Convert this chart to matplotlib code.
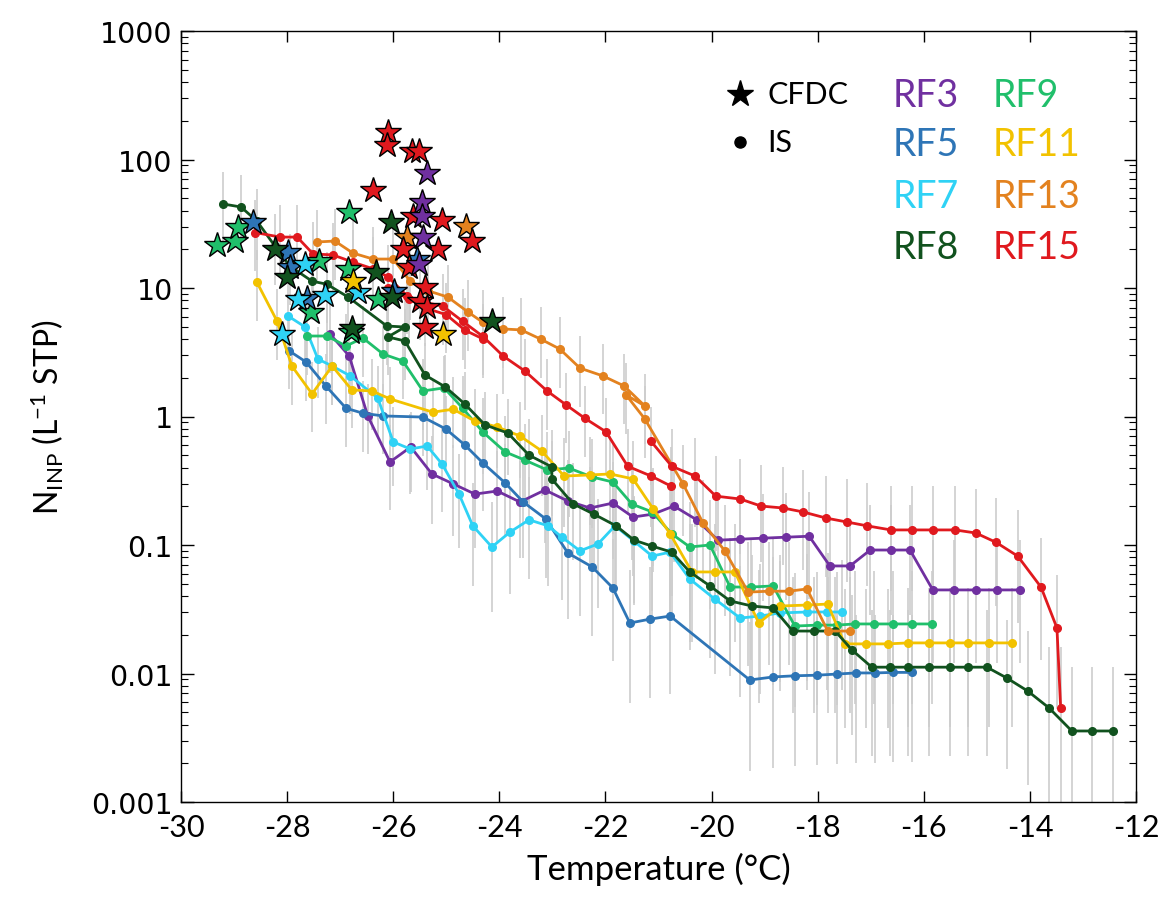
import numpy as np
import matplotlib
matplotlib.use('Agg')
import matplotlib.pyplot as plt
from matplotlib.ticker import FixedLocator, FixedFormatter, LogLocator, NullFormatter

plt.rcParams['font.family'] = ['Lato', 'DejaVu Sans']
plt.rcParams['mathtext.default'] = 'regular'

# ---- IS data: temperature (C) and N_INP (L-1 STP) ----
rf3_T = [-27.19, -26.83, -26.48, -26.06, -25.67, -25.27, -24.87, -24.46, -24.04, -23.61, -23.14,
         -22.71, -22.29, -21.86, -21.48, -21.10, -20.71, -20.28, -19.88, -19.46, -19.03, -18.60,
         -18.16, -17.77, -17.39, -17.01, -16.62, -16.26, -15.83, -15.43, -15.02, -14.62, -14.19]
rf3_N = [4.38, 2.96, 1.01, 0.443, 0.579, 0.357, 0.299, 0.249, 0.263, 0.216, 0.268,
         0.220, 0.194, 0.212, 0.165, 0.174, 0.201, 0.157, 0.109, 0.111, 0.113, 0.115,
         0.117, 0.0687, 0.0687, 0.0914, 0.0914, 0.0914, 0.0447, 0.0447, 0.0447, 0.0447, 0.0447]

rf5_T = [-27.96, -27.64, -27.27, -26.89, -26.57, -26.19, -25.44, -25.01, -24.65, -24.31, -23.89,
         -23.55, -23.12, -22.71, -22.25, -21.86, -21.54, -21.16, -20.78, -19.28, -18.84, -18.43,
         -18.01, -17.64, -17.28, -16.92, -16.58, -16.22]
rf5_N = [3.24, 2.65, 1.73, 1.16, 1.06, 1.01, 0.99, 0.80, 0.60, 0.435, 0.304,
         0.216, 0.159, 0.0867, 0.0675, 0.0463, 0.0247, 0.0265, 0.028, 0.0089, 0.0094, 0.0096,
         0.0097, 0.0099, 0.0101, 0.0101, 0.0102, 0.0102]

rf7_T = [-27.98, -27.66, -27.42, -27.15, -26.81, -26.29, -26.00, -25.68, -25.36, -25.08, -24.76,
         -24.50, -24.14, -23.80, -23.44, -23.08, -22.82, -22.48, -22.14, -21.82, -21.46, -21.12,
         -20.78, -20.41, -19.94, -19.46, -19.09, -18.71, -18.20, -17.83, -17.54]
rf7_N = [6.05, 4.97, 2.80, 2.47, 2.07, 1.39, 0.634, 0.559, 0.589, 0.427, 0.249,
         0.141, 0.0965, 0.126, 0.157, 0.141, 0.115, 0.090, 0.102, 0.141, 0.107, 0.082,
         0.088, 0.0543, 0.038, 0.027, 0.028, 0.0296, 0.0301, 0.0301, 0.0301]

rf8_T = [-29.21, -28.87, -28.57, -28.23, -27.95, -27.53, -27.25, -26.85, -26.12, -25.78, -26.10,
         -25.78, -25.40, -25.02, -24.65, -24.27, -23.84, -23.44, -23.01, -23.01, -22.61, -22.22,
         -21.80, -21.46, -21.12, -20.75, -20.41, -20.03, -19.65, -19.24, -18.84, -18.47, -18.07,
         -17.67, -17.35, -16.98, -16.64, -16.30, -15.90, -15.51, -15.17, -14.81, -14.43, -14.04,
         -13.64, -13.21, -12.83, -12.44]
rf8_N = [45.1, 42.7, 33.2, 21.2, 14.8, 11.3, 10.7, 8.5, 5.06, 4.97, 4.16,
         3.87, 2.10, 1.70, 1.25, 0.86, 0.744, 0.50, 0.405, 0.326, 0.209, 0.174,
         0.141, 0.109, 0.098, 0.088, 0.0617, 0.048, 0.0367, 0.0335, 0.0324, 0.0214, 0.0214,
         0.0214, 0.0152, 0.0112, 0.0112, 0.0112, 0.0112, 0.0112, 0.0112, 0.0112, 0.0092, 0.0073,
         0.0054, 0.00357, 0.00357, 0.00357]

rf9_T = [-27.63, -27.25, -26.89, -26.57, -26.19, -25.82, -25.44, -25.04, -24.69, -24.31, -23.89,
         -23.52, -23.10, -22.69, -22.25, -21.86, -21.50, -21.12, -20.75, -20.41, -20.03, -19.65,
         -19.26, -18.84, -18.43, -18.01, -17.64, -17.30, -16.94, -16.58, -16.22, -15.85]
rf9_N = [4.23, 4.23, 3.54, 4.08, 3.06, 2.71, 1.58, 1.67, 1.16, 0.757, 0.53,
         0.458, 0.384, 0.397, 0.338, 0.309, 0.208, 0.181, 0.122, 0.0965, 0.100, 0.0471,
         0.0471, 0.048, 0.0234, 0.0238, 0.0238, 0.0243, 0.0243, 0.0243, 0.0243, 0.0243]

rf11_T = [-28.57, -28.19, -27.91, -27.53, -27.15, -26.78, -26.40, -26.06, -25.25, -24.87, -24.46,
          -24.04, -23.61, -23.20, -22.78, -22.29, -21.91, -21.48, -21.10, -20.78, -20.37, -19.94,
          -19.56, -19.11, -18.71, -18.20, -17.81, -17.49, -17.09, -16.68, -16.30, -15.90, -15.51,
          -15.17, -14.77, -14.34]
rf11_N = [11.1, 5.53, 2.47, 1.50, 2.47, 1.61, 1.58, 1.37, 1.08, 1.14, 0.92,
          0.83, 0.705, 0.539, 0.344, 0.351, 0.357, 0.327, 0.191, 0.122, 0.0617, 0.0617,
          0.0617, 0.0247, 0.0335, 0.0341, 0.0347, 0.0170, 0.0170, 0.0170, 0.0173, 0.0173, 0.0173,
          0.0173, 0.0173, 0.0173]

rf13_T = [-27.44, -27.10, -26.76, -26.38, -26.00, -25.68, -25.34, -24.97, -24.59, -24.31, -23.93,
          -23.59, -23.22, -22.86, -22.48, -22.05, -21.65, -21.26, -21.61, -21.26, -20.54, -20.16,
          -19.75, -19.31, -18.92, -18.54, -18.20, -17.81, -17.39]
rf13_N = [22.8, 23.2, 18.7, 16.8, 16.8, 11.3, 9.5, 8.5, 6.5, 5.4, 4.80,
          4.72, 4.0, 3.35, 2.38, 2.07, 1.73, 1.21, 1.47, 0.96, 0.30, 0.148,
          0.090, 0.043, 0.0437, 0.0437, 0.0455, 0.0214, 0.0214]

rf15a_T = [-28.6, -28.13, -27.81, -27.51, -27.14, -26.76, -26.38, -26.10, -25.74, -25.50, -25.06,
           -24.69, -24.31, -23.93, -23.52, -23.10, -22.74, -22.39, -21.99, -21.58, -21.14, -20.77]
rf15a_N = [27.0, 24.9, 24.9, 18.4, 18.1, 15.9, 14.1, 12.2, 8.7, 7.9, 7.2,
           5.5, 4.2, 2.96, 2.26, 1.58, 1.23, 0.97, 0.76, 0.41, 0.344, 0.288]
rf15b_T = [-26.10, -25.70, -25.40, -25.00, -24.65, -24.30]
rf15b_N = [10.0, 8.2, 7.0, 6.2, 4.7, 4.0]
rf15c_T = [-21.14, -20.75, -20.31, -19.92, -19.46, -19.07, -18.65, -18.28, -17.84, -17.45, -17.07,
           -16.62, -16.22, -15.83, -15.41, -15.02, -14.64, -14.23, -13.79, -13.49, -13.42]
rf15c_N = [0.64, 0.41, 0.344, 0.24, 0.228, 0.201, 0.194, 0.181, 0.162, 0.151, 0.141,
           0.131, 0.131, 0.131, 0.131, 0.124, 0.105, 0.082, 0.047, 0.0226, 0.0054]

# ---- CFDC data ----
cfdc3_T = [-25.36, -25.46, -25.46, -25.44, -25.51]
cfdc3_N = [78.5, 46.7, 36.3, 24.9, 15.4]
cfdc5_T = [-28.64, -27.98, -27.95, -27.63, -25.55, -25.99]
cfdc5_N = [32.7, 19.1, 14.6, 8.4, 16.8, 9.5]
cfdc7_T = [-27.66, -26.66, -27.80, -27.29, -28.10]
cfdc7_N = [15.4, 9.3, 8.2, 8.8, 4.38]
cfdc8_T = [-26.04, -28.23, -28.00, -26.32, -26.02, -24.14, -26.78]
cfdc8_N = [32.7, 20.1, 12.2, 13.3, 8.5, 5.5, 4.9]
cfdc9_T = [-26.83, -29.32, -28.98, -28.93, -27.40, -26.85, -27.55, -26.29, -26.80]
cfdc9_N = [39.0, 21.6, 23.2, 29.9, 16.2, 14.1, 6.5, 8.2, 4.55]
cfdc11_T = [-26.76, -25.06]
cfdc11_N = [11.3, 4.38]
cfdc13_T = [-24.63, -25.74]
cfdc13_N = [30.4, 24.9]
cfdc15_T = [-26.10, -26.12, -25.65, -25.51, -26.38, -25.63, -25.08, -24.52, -25.82, -25.16,
            -25.70, -25.40, -25.50, -25.36, -25.40]
cfdc15_N = [164, 130, 116, 116, 57.9, 36.3, 33.8, 23.2, 20.1, 20.1,
            14.6, 10.2, 7.9, 7.1, 4.97]

c3 = '#7030a0'
c5 = '#2e75b6'
c7 = '#2fd2f5'
c8 = '#11521e'
c9 = '#20bf6b'
c11 = '#f2c200'
c13 = '#e3821f'
c15 = '#e0191e'

is_lines = [(rf3_T, rf3_N, c3), (rf5_T, rf5_N, c5), (rf7_T, rf7_N, c7), (rf9_T, rf9_N, c9),
            (rf11_T, rf11_N, c11), (rf8_T, rf8_N, c8), (rf13_T, rf13_N, c13),
            (rf15a_T, rf15a_N, c15), (rf15b_T, rf15b_N, c15), (rf15c_T, rf15c_N, c15)]
stars = [(cfdc9_T, cfdc9_N, c9), (cfdc5_T, cfdc5_N, c5), (cfdc7_T, cfdc7_N, c7),
         (cfdc8_T, cfdc8_N, c8), (cfdc11_T, cfdc11_N, c11), (cfdc13_T, cfdc13_N, c13),
         (cfdc15_T, cfdc15_N, c15), (cfdc3_T, cfdc3_N, c3)]

fig = plt.figure(figsize=(11.6, 9.04), dpi=100)
ax = fig.add_axes([181 / 1160, 1 - 803 / 904, 955 / 1160, 771 / 904])

# error bars (IS confidence intervals, wider at low concentrations)
for T, N, c in is_lines:
    N = np.array(N)
    dec = np.clip(-np.log10(N), 0, None)
    lo = N / 10 ** (0.3 + 0.2 * dec)
    hi = N * 10 ** (0.25 + 0.1 * dec)
    ax.vlines(T, lo, hi, color='#cdcdcd', lw=1.2, zorder=1)

for T, N, c in is_lines:
    ax.plot(T, N, '-o', color=c, lw=2, ms=5.5, zorder=3)

for T, N, c in stars:
    ax.plot(T, N, '*', color=c, ms=19, mec='k', mew=1.0, ls='none', zorder=5)

ax.set_yscale('log')
ax.set_xlim(-30, -12)
ax.set_ylim(0.001, 1000)
ax.xaxis.set_major_locator(FixedLocator(np.arange(-30, -11, 2)))
ax.set_xticklabels([str(v) for v in range(-30, -11, 2)], fontsize=22)
ax.yaxis.set_major_locator(FixedLocator([0.001, 0.01, 0.1, 1, 10, 100, 1000]))
ax.yaxis.set_major_formatter(FixedFormatter(['0.001', '0.01', '0.1', '1', '10', '100', '1000']))
ax.yaxis.set_minor_locator(LogLocator(base=10, subs=np.arange(2, 10), numticks=20))
ax.yaxis.set_minor_formatter(NullFormatter())
for lab in ax.get_yticklabels():
    lab.set_family('DejaVu Sans')
    lab.set_fontsize(20.5)
ax.tick_params(axis='both', which='both', direction='in', top=True, right=True)
ax.tick_params(axis='y', which='major', length=9, width=1, pad=6)
ax.tick_params(axis='y', which='minor', length=5, width=0.8)
ax.tick_params(axis='x', which='major', length=8, width=1, pad=8)
for s in ax.spines.values():
    s.set_linewidth(1.0)

ax.set_xlabel('Temperature (°C)', fontsize=25, labelpad=8)
ax.set_ylabel('N$_{INP}$ (L$^{-1}$ STP)', fontsize=23, labelpad=18)

# legend drawn as text
ax.plot([0.585], [0.918], '*', color='k', ms=20, transform=ax.transAxes, clip_on=False)
ax.plot([0.585], [0.856], 'o', color='k', ms=8, transform=ax.transAxes, clip_on=False)
ax.text(0.614, 0.918, 'CFDC', fontsize=22, va='center', transform=ax.transAxes)
ax.text(0.614, 0.856, 'IS', fontsize=22, va='center', transform=ax.transAxes)
rf_labels = [('RF3', c3, 0.7455, 0.917), ('RF5', c5, 0.7455, 0.8534), ('RF7', c7, 0.7455, 0.786),
             ('RF8', c8, 0.7455, 0.7198), ('RF9', c9, 0.8503, 0.917), ('RF11', c11, 0.8503, 0.8534),
             ('RF13', c13, 0.8503, 0.786), ('RF15', c15, 0.8503, 0.7198)]
for name, c, xa, ya in rf_labels:
    ax.text(xa, ya, name, color=c, fontsize=27, va='center', transform=ax.transAxes)

fig.savefig('out.png', dpi=100)
